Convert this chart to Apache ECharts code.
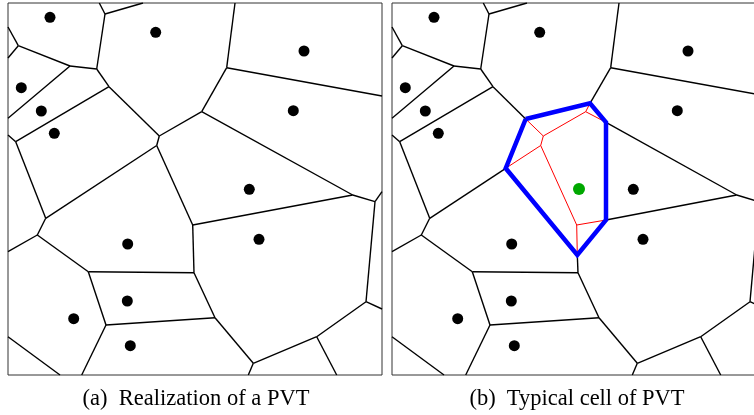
<!DOCTYPE html>
<html>
<head>
<meta charset="utf-8">
<script src="https://cdn.jsdelivr.net/npm/echarts@6/dist/echarts.min.js"></script>
<style>
html,body{margin:0;padding:0;background:#fff;}
#chart{width:754px;height:415px;}
</style>
</head>
<body>
<div id="chart"></div>
<script>
// Window: u in [0,374], v in [0,372]
const domainU = [0, 374];
const domainV = [0, 372];

// Generating points (sites) of the Poisson-Voronoi tessellation
const sitesU = [42, 147.7, 296, 13.3, 33.3, 285.3, 46.3, 241.3, 119.7, 251, 119.3, 65.7, 122.3];
const sitesV = [357.7, 342.7, 324, 287.3, 264, 264.3, 241.7, 185.7, 131, 135.7, 74, 56.3, 29.3];

// Added point at the origin of the typical cell
const typicalSite = [187, 186];

// Tessellation vertices (interior and on the window border)
const vertexIds = ['A','B','C','D','E','F','G','H','I','J','K','T','L','M','N','O','P','Q','R','S','U','V',
  't1','t2','t3','l1','l2','l3','l4','l5','l6','r1','r2','r3','b1','b2','b3','b4',
  'C1','C2','C3','C4','C5','C6'];
const vertexU = [97, 88.7, 10.3, 62, 101, 7.7, 151.3, 148.7, 218.7, 193.7, 344.7, 367, 184.7, 186, 80.3, 207, 98, 245.3, 308.7, 358, 37.7, 29.3,
  91.3, 135, 227, 0, 0, 0, 0, 0, 0, 374, 374, 374, 52, 73.7, 240.3, 328.7,
  133.7, 198, 214, 214, 185.3, 113.7];
const vertexV = [361, 306, 329.3, 309, 288.3, 233.3, 239, 229.5, 307.3, 263.3, 180, 173.3, 150, 102.3, 103.3, 57.3, 50, 11.7, 38.3, 73.3, 156.7, 140,
  372, 372, 372, 348, 317, 256.7, 240, 123.3, 38.3, 279, 183.3, 66, 0, 0, 0, 0,
  256, 271.7, 252.7, 155, 120, 206.7];

// Edges of the tessellation (panel a)
const edgesA = [
  ['A','t1'],['A','t2'],['A','B'],['C','l1'],['C','l2'],['C','D'],['D','B'],['D','l3'],
  ['B','E'],['E','G'],['E','F'],['F','l4'],['F','U'],['G','H'],['G','J'],['H','U'],['H','L'],
  ['I','t3'],['I','J'],['I','r1'],['J','K'],['K','L'],['K','T'],['T','r2'],['T','S'],
  ['L','M'],['M','N'],['M','O'],['N','V'],['N','P'],['V','U'],['V','l5'],['P','O'],['P','b2'],
  ['O','Q'],['Q','b3'],['Q','R'],['R','b4'],['R','S'],['S','r3'],['l6','b1']
];

// Panel b: edges outside the typical cell (black)
const edgesBOutside = [
  ['A','t1'],['A','t2'],['A','B'],['C','l1'],['C','l2'],['C','D'],['D','B'],['D','l3'],
  ['B','E'],['E','C1'],['E','F'],['F','l4'],['F','U'],['C6','U'],
  ['I','t3'],['I','C2'],['I','r1'],['C3','K'],['K','C4'],['K','T'],['T','r2'],['T','S'],
  ['C5','M'],['M','N'],['M','O'],['N','V'],['N','P'],['V','U'],['V','l5'],['P','O'],['P','b2'],
  ['O','Q'],['Q','b3'],['Q','R'],['R','b4'],['R','S'],['S','r3'],['l6','b1']
];
// Panel b: old edges inside the typical cell (red)
const edgesBInside = [
  ['C1','G'],['G','H'],['H','C6'],['G','J'],['C2','J'],['J','C3'],['C4','L'],['L','C5'],['H','L']
];
// Panel b: boundary of the typical cell (blue)
const typicalCell = ['C1','C2','C3','C4','C5','C6','C1'];

const captions = ['(a)  Realization of a PVT', '(b)  Typical cell of PVT'];

function vtx(id) {
  const i = vertexIds.indexOf(id);
  return [vertexU[i], vertexV[i]];
}
function segs(list) {
  return list.map(e => ({ coords: [vtx(e[0]), vtx(e[1])] }));
}
const sites = sitesU.map((u, i) => [u, sitesV[i]]);

const chart = echarts.init(document.getElementById('chart'), null, { renderer: 'canvas' });

const frameLeft = [8, 392];
const grids = frameLeft.map(l => ({
  left: l, top: 3, width: 374, height: 372,
  outerBoundsMode: 'none', containLabel: false,
  show: true, borderColor: '#333', borderWidth: 1, backgroundColor: 'transparent'
}));
const axisCommon = { show: false, type: 'value' };
const xAxes = [0, 1].map(g => Object.assign({}, axisCommon, { gridIndex: g, min: domainU[0], max: domainU[1] }));
const yAxes = [0, 1].map(g => Object.assign({}, axisCommon, { gridIndex: g, min: domainV[0], max: domainV[1] }));

function edgeSeries(list, g, color, width, z) {
  return {
    type: 'lines', coordinateSystem: 'cartesian2d', xAxisIndex: g, yAxisIndex: g,
    data: segs(list), silent: true, z: z,
    lineStyle: { color: color, width: width, opacity: 1 }
  };
}
function siteSeries(data, g, color, size) {
  return { type: 'scatter', xAxisIndex: g, yAxisIndex: g, data: data, symbolSize: size,
    itemStyle: { color: color, opacity: 1 }, silent: true, z: 5 };
}

const option = {
  animation: false,
  backgroundColor: '#fff',
  grid: grids,
  xAxis: xAxes,
  yAxis: yAxes,
  series: [
    edgeSeries(edgesA, 0, '#000', 1.4, 2),
    siteSeries(sites, 0, '#000', 11),
    edgeSeries(edgesBOutside, 1, '#000', 1.4, 2),
    edgeSeries(edgesBInside, 1, '#ff0000', 1, 3),
    { type: 'line', xAxisIndex: 1, yAxisIndex: 1, data: typicalCell.map(vtx),
      showSymbol: false, symbol: 'none', silent: true, z: 4,
      lineStyle: { color: '#0000ff', width: 4.5, join: 'miter', opacity: 1 } },
    siteSeries(sites, 1, '#000', 11),
    siteSeries([typicalSite], 1, '#00a800', 12)
  ],
  graphic: [
    { type: 'text', x: 196, y: 399, style: { text: captions[0], font: '22.5px "Liberation Serif", serif', fill: '#000', textAlign: 'center', textVerticalAlign: 'middle' } },
    { type: 'text', x: 577, y: 399, style: { text: captions[1], font: '22.5px "Liberation Serif", serif', fill: '#000', textAlign: 'center', textVerticalAlign: 'middle' } }
  ]
};
chart.setOption(option);
</script>
</body>
</html>
